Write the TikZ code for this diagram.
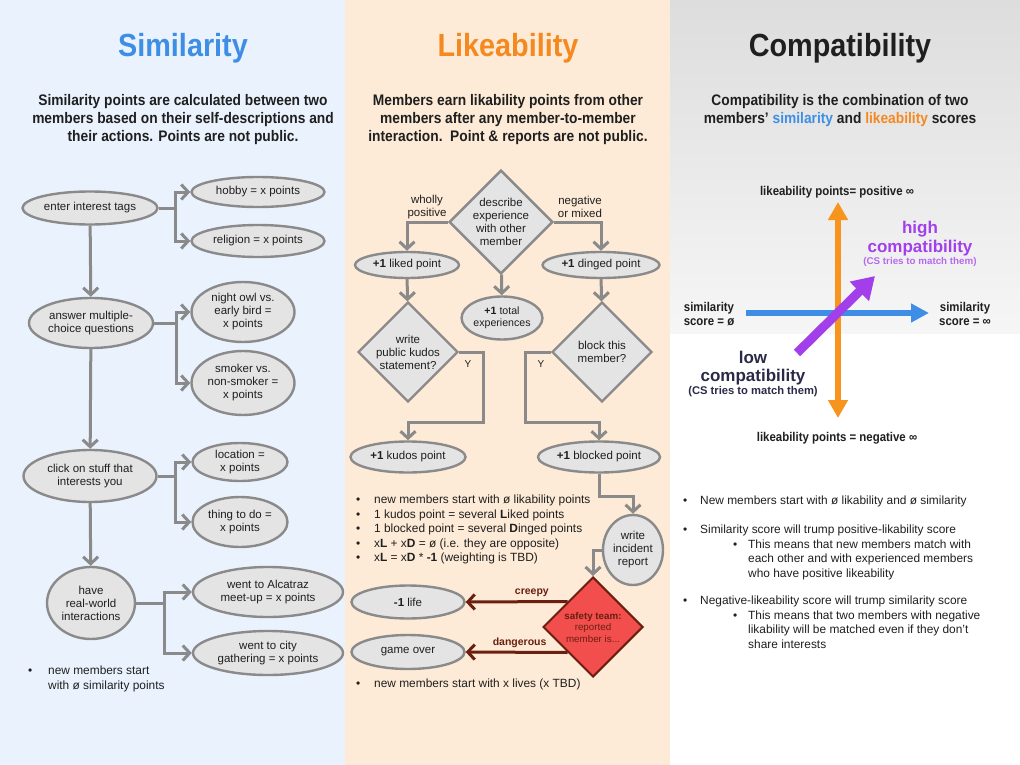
\documentclass[tikz,border=0pt]{standalone}
\usepackage{fontspec}
\setmainfont{Liberation Sans}
\newfontfamily\condfont[FakeStretch=0.9]{Liberation Sans}
\usetikzlibrary{shapes.geometric,arrows.meta}

\definecolor{simblue}{HTML}{3D8EE4}
\definecolor{likeorange}{HTML}{F5891F}
\definecolor{axisorange}{HTML}{F7941D}
\definecolor{compurple}{HTML}{A23FEA}
\definecolor{softpurple}{HTML}{B56AF0}
\definecolor{lownavy}{HTML}{2A2A48}
\definecolor{boxgray}{HTML}{E4E4E4}
\definecolor{linegray}{HTML}{8A8A8A}
\definecolor{alarmred}{HTML}{F24E4E}
\definecolor{alarmline}{HTML}{6A1F10}
\definecolor{bgblue}{HTML}{EAF3FD}
\definecolor{bgpeach}{HTML}{FDEBD7}
\definecolor{graytop}{HTML}{DDDDDD}
\definecolor{graybot}{HTML}{F6F6F6}

\newcommand{\bul}[1][17pt]{\makebox[#1][l]{\textbullet}}

\begin{document}
\begin{tikzpicture}[x=1pt,y=-1pt,
    every node/.style={text=black!88},
    title/.style={font=\condfont\bfseries\fontsize{32}{35}\selectfont},
    lead/.style={font=\condfont\bfseries\fontsize{15.3}{18}\selectfont, align=center},
    oval/.style={ellipse, draw=linegray, fill=boxgray, line width=2.4pt, inner sep=0pt, align=center, font=\fontsize{11.5}{13}\selectfont},
    ask/.style={diamond, draw=linegray, fill=boxgray, line width=2.4pt, inner sep=0pt, minimum width=100pt, minimum height=100pt, align=center, font=\fontsize{11.5}{13}\selectfont},
    flow/.style={draw=linegray, line width=3pt, -{Straight Barb[length=7pt,width=15pt]}},
    alarm/.style={draw=alarmline, line width=3pt, -{Straight Barb[length=7pt,width=15pt]}},
    alarmtag/.style={font=\bfseries\fontsize{10.5}{12}\selectfont, text=alarmline},
    note/.style={font=\fontsize{11.9}{14.4}\selectfont, align=left, anchor=north west, inner sep=0pt},
    axistag/.style={font=\condfont\bfseries\fontsize{12.7}{13.5}\selectfont, align=center},
    bigtag/.style={font=\bfseries\fontsize{17}{19}\selectfont},
    smalltag/.style={font=\bfseries\fontsize{9.8}{11}\selectfont}
]
\useasboundingbox (0,0) rectangle (1020,765);

% panels
\fill[white] (0,0) rectangle (1020,765);
\fill[bgblue] (0,0) rectangle (345,765);
\fill[bgpeach] (345,0) rectangle (670,765);
\shade[top color=graytop, bottom color=graybot] (670,0) rectangle (1020,333);

% similarity
\node[title, text=simblue] (simtitle) at (183,48) {Similarity};
\node[lead] (simlead) at (183,120) {Similarity points are calculated between two\\members based on their self-descriptions and\\their actions. Points are not public.};

\node[oval, minimum width=135pt, minimum height=33pt] (tags) at (90,208) {enter interest tags};
\node[oval, minimum width=133pt, minimum height=30pt] (hobby) at (258,192) {hobby = x points};
\node[oval, minimum width=133pt, minimum height=32pt] (religion) at (258,241) {religion = x points};
\node[oval, minimum width=124pt, minimum height=50pt] (multi) at (91,323) {answer multiple-\\choice questions};
\node[oval, minimum width=103pt, minimum height=60pt] (owl) at (243,312) {night owl vs.\\early bird =\\x points};
\node[oval, minimum width=103pt, minimum height=64pt] (smoker) at (243,383) {smoker vs.\\non-smoker =\\x points};
\node[oval, minimum width=133pt, minimum height=52pt] (click) at (90,476) {click on stuff that\\interests you};
\node[oval, minimum width=95pt, minimum height=38pt] (location) at (240,462) {location =\\x points};
\node[oval, minimum width=95pt, minimum height=50pt] (thing) at (240,522) {thing to do =\\x points};
\node[oval, minimum width=88pt, minimum height=72pt] (world) at (91,603) {have\\real-world\\interactions};
\node[oval, minimum width=150pt, minimum height=50pt] (alcatraz) at (268,592) {went to Alcatraz\\meet-up = x points};
\node[oval, minimum width=150pt, minimum height=44pt] (city) at (268,653) {went to city\\gathering = x points};

\path[flow] (tags) -- (multi);
\path[flow] (multi) -- (click);
\path[flow] (click) -- (world);
\path[flow] (tags.east) -- ++(17,0) |- (hobby.west);
\path[flow] (tags.east) -- ++(17,0) |- (religion.west);
\path[flow] (multi.east) -- ++(22,0) |- (owl.west);
\path[flow] (multi.east) -- ++(22,0) |- (smoker.west);
\path[flow] (click.east) -- ++(18,0) |- (location.west);
\path[flow] (click.east) -- ++(18,0) |- (thing.west);
\path[flow] (world.east) -- ++(28,0) |- (alcatraz.west);
\path[flow] (world.east) -- ++(28,0) |- (city.west);

\node[note] (simnote) at (28,666) {\bul[20pt]new members start\\\hspace*{20pt}with ø similarity points};

% likeability
\node[title, text=likeorange] (liketitle) at (508,48) {Likeability};
\node[lead] (likelead) at (508,120) {Members earn likability points from other\\members after any member-to-member\\interaction.\ \ Point \& reports are not public.};

\node[ask, minimum width=98pt] (describe) at (501,222) {describe\\experience\\with other\\member};
\node[font=\fontsize{11.5}{13}\selectfont, align=center] (wholly) at (427,207) {wholly\\positive};
\node[font=\fontsize{11.5}{13}\selectfont, align=center] (mixed) at (580,207) {negative\\or mixed};
\node[oval, minimum width=104pt, minimum height=26pt] (liked) at (407,265) {\textbf{+1} liked point};
\node[oval, minimum width=117pt, minimum height=26pt] (dinged) at (601,265) {\textbf{+1} dinged point};
\node[oval, minimum width=80pt, minimum height=43pt, font=\fontsize{10.6}{12}\selectfont] (total) at (502,318) {\textbf{+1} total\\experiences};
\node[ask] (kudosq) at (408,352) {write\\public kudos\\statement?};
\node[ask] (blockq) at (602,352) {block this\\member?};
\node[font=\fontsize{10}{11}\selectfont] (kudosy) at (468,364) {Y};
\node[font=\fontsize{10}{11}\selectfont] (blocky) at (541,364) {Y};
\node[oval, minimum width=115pt, minimum height=31pt] (kudos) at (408,457) {\textbf{+1} kudos point};
\node[oval, minimum width=122pt, minimum height=31pt] (blocked) at (599,457) {\textbf{+1} blocked point};
\node[oval, minimum width=60pt, minimum height=70pt] (report) at (633,550) {write\\incident\\report};
\node[diamond, draw=alarmline, fill=alarmred, line width=2pt, inner sep=0pt, minimum width=100pt, minimum height=100pt, align=center, font=\fontsize{9.8}{11.5}\selectfont, text=alarmline] (safety) at (593,627) {\textbf{safety team:}\\reported\\member is...};
\node[oval, minimum width=113pt, minimum height=33pt] (life) at (408,602) {\textbf{-1} life};
\node[oval, minimum width=113pt, minimum height=34pt] (over) at (408,652) {game over};

\path[flow] (describe.west) -| (liked.north);
\path[flow] (describe.east) -| (dinged.north);
\path[flow] (describe) -- (total);
\path[flow] (liked) -- (kudosq);
\path[flow] (dinged) -- (blockq);
\path[flow] (kudosq.east) -- ++(24,0) -- ++(0,70) -| (kudos.north);
\path[flow] (blockq.west) -- ++(-25,0) -- ++(0,70) -| (blocked.north);
\path[flow] (blocked.south) -- ++(0,23) -| (report.north);
\path[flow] (report.west) -| (safety.north);
\path[alarm] (safety.north west) -- node[pos=0.35, above, alarmtag] {creepy} (life.east);
\path[alarm] (safety.south west) -- node[pos=0.47, above, alarmtag] {dangerous} (over.east);

\node[note] (likenote) at (356,495) {\bul[18pt]new members start with ø likability points\\
\bul[18pt]1 kudos point = several \textbf{L}iked points\\
\bul[18pt]1 blocked point = several \textbf{D}inged points\\
\bul[18pt]x\textbf{L} + x\textbf{D} = ø (i.e. they are opposite)\\
\bul[18pt]x\textbf{L} = x\textbf{D} * \textbf{-1} (weighting is TBD)};
\node[note] (livesnote) at (356,679) {\bul[18pt]new members start with x lives (x TBD)};

% compatibility
\node[title] (comptitle) at (840,48) {Compatibility};
\node[lead] (complead) at (840,111) {Compatibility is the combination of two\\members’ \textcolor{simblue}{similarity} and \textcolor{likeorange}{likeability} scores};

\node[axistag] (likehi) at (837,192) {likeability points= positive ∞};
\node[axistag] (likelo) at (837,438) {likeability points = negative ∞};
\node[axistag] (simlo) at (709,314) {similarity\\score = ø};
\node[axistag] (simhi) at (965,314) {similarity\\score = ∞};

\coordinate (simzero) at (746,313);
\coordinate (siminf) at (929,313);
\coordinate (likepos) at (838,202);
\coordinate (likeneg) at (838,418);
\coordinate (lowend) at (797,353);
\coordinate (highend) at (875,276);

\draw[axisorange, line width=6pt, {Triangle[length=18pt,width=19pt]}-{Triangle[length=18pt,width=19pt]}] (likeneg) -- (likepos);
\draw[simblue, line width=6pt, -{Triangle[length=18pt,width=18pt]}] (simzero) -- (siminf);
\draw[compurple, line width=9pt, -{Triangle[length=22pt,width=26pt]}] (lowend) -- (highend);

\node[bigtag, text=compurple] (high) at (920,229) {high};
\node[bigtag, text=compurple] (highcomp) at (920,248) {compatibility};
\node[smalltag, text=softpurple] (highcs) at (920,262) {(CS tries to match them)};
\node[bigtag, text=lownavy] (low) at (753,357) {low};
\node[bigtag, text=lownavy] (lowcomp) at (753,377) {compatibility};
\node[smalltag, text=lownavy, font=\bfseries\fontsize{11.2}{12}\selectfont] (lowcs) at (753,392) {(CS tries to match them)};

\node[note] (compnote) at (683,496) {\bul New members start with ø likability and ø similarity};
\node[note] (trumpnote) at (683,525) {\bul Similarity score will trump positive-likability score\\
\hspace*{50pt}\bul[15pt]This means that new members match with\\
\hspace*{65pt}each other and with experienced members\\
\hspace*{65pt}who have positive likeability};
\node[note] (negnote) at (683,596) {\bul Negative-likeability score will trump similarity score\\
\hspace*{50pt}\bul[15pt]This means that two members with negative\\
\hspace*{65pt}likability will be matched even if they don’t\\
\hspace*{65pt}share interests};
\end{tikzpicture}
\end{document}
